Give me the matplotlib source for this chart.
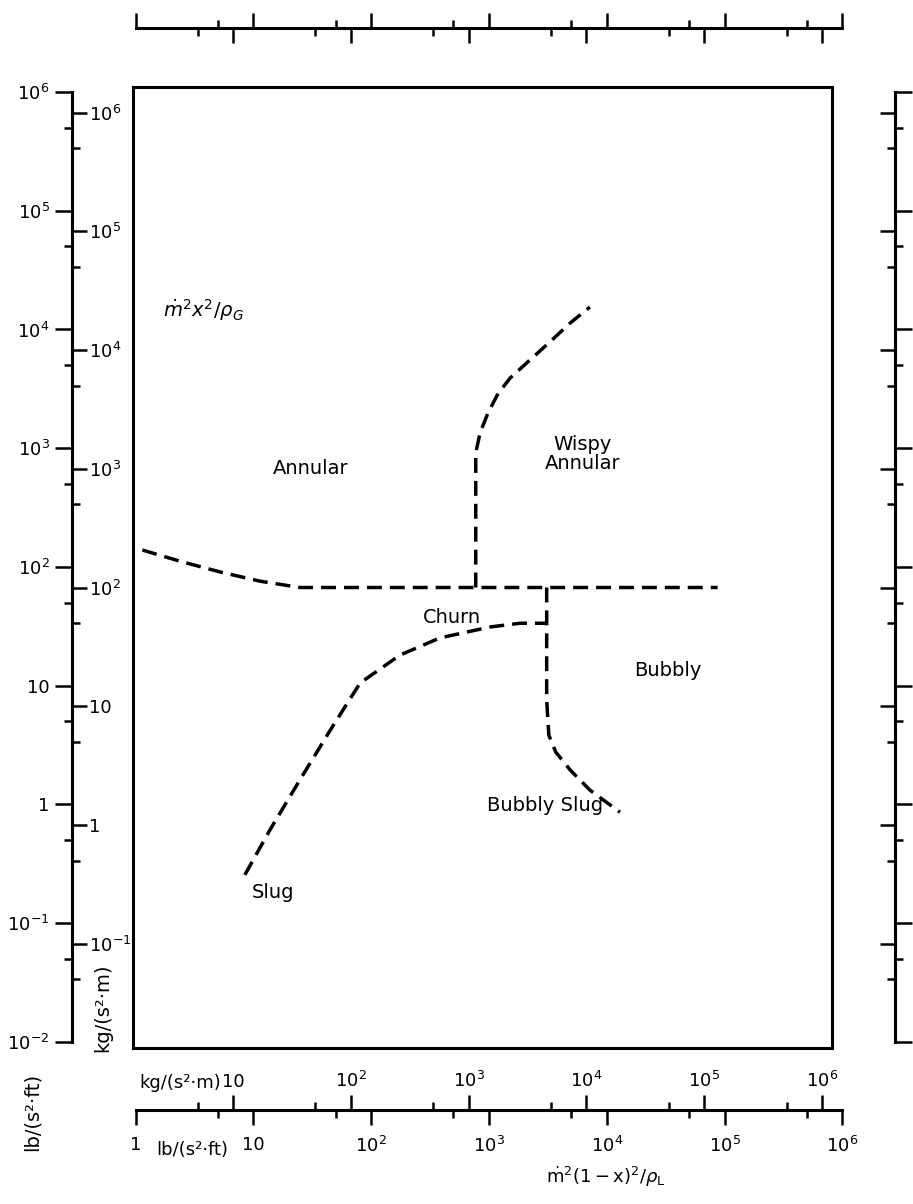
import numpy as np
import matplotlib
matplotlib.use('Agg')
import matplotlib.pyplot as plt
from matplotlib.ticker import FixedLocator, NullFormatter, NullLocator, FuncFormatter

# ---------------- data (values in kg/(s^2 m)) ----------------
# annular / churn boundary
ann_x = [1.7, 3.5, 7.8, 17, 37, 1150, 4600, 1.3e5]
ann_y = [207, 167, 135, 113, 100, 100, 100, 100]
# wispy annular boundary
wisp_x = [1150, 1150, 1250, 1460, 1780, 2250, 3300, 4900, 7300, 10700]
wisp_y = [100, 1360, 2000, 2950, 4300, 5800, 8200, 11700, 16900, 23000]
# churn / slug boundary
churn_x = [12.6, 20.6, 37, 67, 120, 262, 570, 1520, 2730, 4600]
churn_y = [0.38, 0.91, 2.4, 6.3, 15.7, 27, 37.6, 46.5, 50, 50]
# bubbly / bubbly-slug boundary
bub_x = [4600, 4600, 4600, 4800, 5500, 7300, 10700, 19300]
bub_y = [100, 50, 11.3, 5.7, 4.1, 2.9, 1.97, 1.28]

region_names = ["Annular", "Wispy\nAnnular", "Churn", "Bubbly", "Bubbly Slug", "Slug"]
region_x = [46, 9350, 720, 49000, 4460, 22]
region_y = [1000, 1330, 56, 20, 1.47, 0.27]

# axis tick values
lb_y_major = [1e-2, 1e-1, 1, 10, 1e2, 1e3, 1e4, 1e5, 1e6]
lb_y_minor = [5e-2, 5e-1, 5, 50, 5e2, 5e3, 5e4, 5e5]
kg_y_major = [1e-1, 1, 10, 1e2, 1e3, 1e4, 1e5, 1e6]
kg_y_minor = [5e-2, 5e-1, 5, 50, 5e2, 5e3, 5e4, 5e5]
lb_x_major = [1, 10, 1e2, 1e3, 1e4, 1e5, 1e6]
lb_x_minor = [5, 50, 5e2, 5e3, 5e4, 5e5]
kg_x_major = [10, 1e2, 1e3, 1e4, 1e5, 1e6]
kg_x_minor = [5, 50, 5e2, 5e3, 5e4, 5e5]

# ---------------- layout ----------------
W, H = 913, 1204
fig = plt.figure(figsize=(W / 100, H / 100), dpi=100)
plt.rcParams['mathtext.fontset'] = 'dejavusans'

KG_PER_LB = 0.45359237 / 0.3048
LC = np.log10(KG_PER_LB)

X0, XD = 233.0, 117.8   # px of kg=10 on x, px per decade
Y0, YD = 587.5, 118.75  # px of kg=100 on y, px per decade


def lx(px):
    return 1 + (px - X0) / XD


def ly(py):
    return 2 - (py - Y0) / YD


def add_ax(x0, y0, x1, y1):
    w = max(x1 - x0, 0.01)
    h = max(y1 - y0, 0.01)
    return fig.add_axes([x0 / W, 1 - (y0 + h) / H, w / W, h / H])


def fx(px):
    return px / W


def fy(py):
    return 1 - py / H


def sup_label(v):
    e = int(round(np.log10(v)))
    if e == 0:
        return "1"
    if e == 1:
        return "10"
    return r"$10^{%d}$" % e


LW = 1.8
TICKFS = 13
BL, BR, BT, BB = 133, 832, 87, 1048

# ---------------- main box ----------------
ax = add_ax(BL, BT, BR, BB)
ax.set_xscale('log')
ax.set_yscale('log')
ax.set_xlim(10 ** lx(BL), 10 ** lx(BR))
ax.set_ylim(10 ** ly(BB), 10 ** ly(BT))
for axis in (ax.xaxis, ax.yaxis):
    axis.set_major_locator(NullLocator())
    axis.set_minor_locator(NullLocator())
for s in ax.spines.values():
    s.set_linewidth(2.2)
ax.patch.set_alpha(0)

dash = dict(color='black', lw=2.5, linestyle=(0, (4.3, 2.3)), dash_capstyle='butt')
ax.plot(ann_x, ann_y, **dash)
ax.plot(wisp_x, wisp_y, **dash)
ax.plot(churn_x, churn_y, **dash)
ax.plot(bub_x, bub_y, **dash)

for name, x, y in zip(region_names, region_x, region_y):
    ax.text(x, y, name, fontsize=14, ha='center', va='center', linespacing=1.05)
ax.text(5.6, 21700, r"$\dot{m}^2x^2/\rho_G$", fontsize=14, ha='center', va='center')


# ---------------- vertical scales ----------------
def vaxis(xpx, mirror, labels):
    a = add_ax(xpx, BT, xpx, BB)
    a.set_yscale('log')
    a.set_ylim(10 ** (ly(BB) - LC), 10 ** (ly(BT) - LC))
    b = a.twinx()
    b.set_yscale('log')
    b.set_ylim(10 ** ly(BB), 10 ** ly(BT))
    for axx in (a, b):
        axx.xaxis.set_major_locator(NullLocator())
        axx.xaxis.set_minor_locator(NullLocator())
        axx.patch.set_alpha(0)
        for s in axx.spines.values():
            s.set_visible(False)
    a.spines['left'].set_visible(True)
    a.spines['left'].set_linewidth(LW + 0.4)
    a.spines['left'].set_bounds(1e-2, 1e6)
    d = 'in' if mirror else 'out'
    a.yaxis.set_ticks_position('left')
    a.yaxis.set_major_locator(FixedLocator(lb_y_major))
    a.yaxis.set_minor_locator(FixedLocator(lb_y_minor))
    a.yaxis.set_minor_formatter(NullFormatter())
    b.yaxis.set_ticks_position('right')
    b.yaxis.set_major_locator(FixedLocator(kg_y_major))
    b.yaxis.set_minor_locator(FixedLocator(kg_y_minor))
    b.yaxis.set_minor_formatter(NullFormatter())
    a.tick_params(axis='y', which='major', direction=d, length=12, width=LW,
                  labelsize=TICKFS, pad=4, labelleft=labels)
    a.tick_params(axis='y', which='minor', direction=d, length=6, width=LW)
    b.tick_params(axis='y', which='major', direction=d, length=11, width=LW,
                  labelsize=TICKFS, pad=1, labelright=labels)
    b.tick_params(axis='y', which='minor', direction=d, length=6, width=LW)
    if labels:
        a.yaxis.set_major_formatter(FuncFormatter(lambda v, p: sup_label(v)))
        b.yaxis.set_major_formatter(FuncFormatter(lambda v, p: sup_label(v)))
    else:
        a.yaxis.set_major_formatter(NullFormatter())
        b.yaxis.set_major_formatter(NullFormatter())


vaxis(72, False, True)
vaxis(895, True, False)


# ---------------- horizontal scales ----------------
HX0, HX1 = 110, 870


def haxis(ypx, mirror, labels):
    a = add_ax(HX0, ypx, HX1, ypx)
    a.set_xscale('log')
    a.set_xlim(10 ** (lx(HX0) - LC), 10 ** (lx(HX1) - LC))
    b = a.twiny()
    b.set_xscale('log')
    b.set_xlim(10 ** lx(HX0), 10 ** lx(HX1))
    for axx in (a, b):
        axx.yaxis.set_major_locator(NullLocator())
        axx.yaxis.set_minor_locator(NullLocator())
        axx.patch.set_alpha(0)
        for s in axx.spines.values():
            s.set_visible(False)
    a.spines['bottom'].set_visible(True)
    a.spines['bottom'].set_linewidth(LW + 0.4)
    a.spines['bottom'].set_bounds(1, 1e6)
    d = 'in' if mirror else 'out'
    a.xaxis.set_ticks_position('bottom')
    a.xaxis.set_major_locator(FixedLocator(lb_x_major))
    a.xaxis.set_minor_locator(FixedLocator(lb_x_minor))
    a.xaxis.set_minor_formatter(NullFormatter())
    b.xaxis.set_ticks_position('top')
    b.xaxis.set_major_locator(FixedLocator(kg_x_major))
    b.xaxis.set_minor_locator(FixedLocator(kg_x_minor))
    b.xaxis.set_minor_formatter(NullFormatter())
    a.tick_params(axis='x', which='major', direction=d, length=11, width=LW,
                  labelsize=TICKFS, pad=8, labelbottom=labels)
    a.tick_params(axis='x', which='minor', direction=d, length=6, width=LW)
    b.tick_params(axis='x', which='major', direction=d, length=11, width=LW,
                  labelsize=TICKFS, pad=3, labeltop=labels)
    b.tick_params(axis='x', which='minor', direction=d, length=6, width=LW)
    if labels:
        a.xaxis.set_major_formatter(FuncFormatter(lambda v, p: sup_label(v)))
        b.xaxis.set_major_formatter(FuncFormatter(lambda v, p: sup_label(v)))
    else:
        a.xaxis.set_major_formatter(NullFormatter())
        b.xaxis.set_major_formatter(NullFormatter())


haxis(1110, False, True)
haxis(28, True, False)

# ---------------- unit / quantity labels ----------------
fig.text(fx(221), fy(1083), "kg/(s²·m)", fontsize=13, ha='right', va='center')
fig.text(fx(192), fy(1150), "lb/(s²·ft)", fontsize=13, ha='center', va='center')
fig.text(fx(606), fy(1177), r"$\dot{\mathrm{m}}^2(1-\mathrm{x})^2/\rho_\mathrm{L}$",
         fontsize=13, ha='center', va='center')
fig.text(fx(103), fy(1008), "kg/(s²·m)", fontsize=14, ha='center', va='center',
         rotation=90)
fig.text(fx(32), fy(1112), "lb/(s²·ft)", fontsize=14, ha='center', va='center',
         rotation=90)

fig.savefig("out.png", dpi=100)
